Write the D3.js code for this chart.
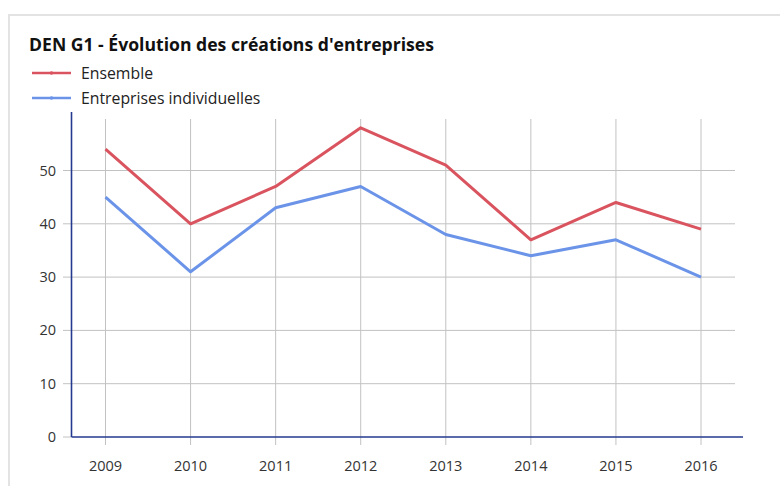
<!DOCTYPE html>
<html>
<head>
<meta charset="utf-8">
<script src="https://cdn.jsdelivr.net/npm/d3@7.9.0/dist/d3.min.js"></script>
<style>
  body { margin: 0; background: #fff; }
  svg { display: block; font-family: "Open Sans", sans-serif; }
</style>
</head>
<body>
<svg width="780" height="486"></svg>
<script>
// data
const years = [2009, 2010, 2011, 2012, 2013, 2014, 2015, 2016];
const ensemble = [54, 40, 47, 58, 51, 37, 44, 39];
const individuelles = [45, 31, 43, 47, 38, 34, 37, 30];
const yTicks = [0, 10, 20, 30, 40, 50];
const seriesNames = ['Ensemble', 'Entreprises individuelles'];
const seriesColors = ['#d9545f', '#6b94e9'];

const svg = d3.select('svg');

// frame
svg.append('path')
  .attr('d', 'M9,486 V15 H780')
  .attr('fill', 'none')
  .attr('stroke', '#e3e3e3')
  .attr('stroke-width', 2);

svg.append('text')
  .attr('x', 29).attr('y', 51)
  .attr('font-size', 17.6).attr('font-weight', 'bold')
  .attr('fill', '#111')
  .text("DEN G1 - Évolution des créations d'entreprises");

// legend
seriesNames.forEach((name, i) => {
  const g = svg.append('g').attr('transform', `translate(32,${73 + i * 25})`);
  g.append('line').attr('x1', 0).attr('x2', 39)
    .attr('stroke', seriesColors[i]).attr('stroke-width', 2.5);
  g.append('circle').attr('cx', 19.5).attr('r', 1.8).attr('fill', seriesColors[i]);
  g.append('text').attr('x', 49).attr('y', 5.5)
    .attr('font-size', 15.8).attr('fill', '#222').text(name);
});

const x = d3.scaleLinear().domain([2009, 2016]).range([105.5, 701]);
const y = d3.scaleLinear().domain([0, 10]).range([437, 383.7]);

// grid
svg.append('g')
  .selectAll('line')
  .data(yTicks.slice(1))
  .join('line')
  .attr('x1', 63).attr('x2', 735)
  .attr('y1', d => y(d)).attr('y2', d => y(d))
  .attr('stroke', '#c2c2c2').attr('stroke-width', 1);

svg.append('g')
  .selectAll('line')
  .data(years)
  .join('line')
  .attr('x1', d => x(d)).attr('x2', d => x(d))
  .attr('y1', 119).attr('y2', 445)
  .attr('stroke', '#c2c2c2').attr('stroke-width', 1);

// tick at 0 on left
svg.append('line').attr('x1', 63).attr('x2', 71)
  .attr('y1', y(0)).attr('y2', y(0))
  .attr('stroke', '#c2c2c2');

// axes lines
svg.append('line').attr('x1', 71.5).attr('x2', 71.5)
  .attr('y1', 112).attr('y2', y(0))
  .attr('stroke', '#24398f').attr('stroke-width', 1.6);
svg.append('line').attr('x1', 71.5).attr('x2', 743)
  .attr('y1', y(0)).attr('y2', y(0))
  .attr('stroke', '#24398f').attr('stroke-width', 1.6);

// tick labels
svg.append('g')
  .selectAll('text')
  .data(yTicks)
  .join('text')
  .attr('x', 56).attr('y', d => y(d) + 5)
  .attr('text-anchor', 'end')
  .attr('font-size', 14.5).attr('fill', '#333')
  .text(d => d);

svg.append('g')
  .selectAll('text')
  .data(years)
  .join('text')
  .attr('x', d => x(d)).attr('y', 471)
  .attr('text-anchor', 'middle')
  .attr('font-size', 14.5).attr('fill', '#333')
  .text(d => d);

// lines
const line = d3.line().x((d, i) => x(years[i])).y(d => y(d));
[ensemble, individuelles].forEach((vals, i) => {
  svg.append('path')
    .attr('d', line(vals))
    .attr('fill', 'none')
    .attr('stroke', seriesColors[i])
    .attr('stroke-width', 3)
    .attr('stroke-linejoin', 'round');
});
</script>
</body>
</html>
